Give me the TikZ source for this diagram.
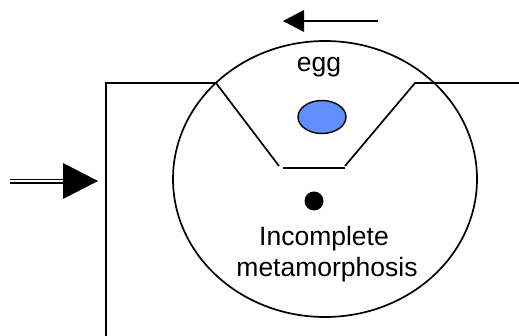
\documentclass[tikz,border=0pt]{standalone}
\usepackage{fontspec}
\setmainfont{Liberation Sans}
\definecolor{eggblue}{RGB}{96,142,250}
\begin{document}
\begin{tikzpicture}[x=1pt,y=-1pt,
  ln/.style={line width=1.7pt},
  lbl/.style={font=\fontsize{26.5}{31}\selectfont, inner sep=0pt, anchor=base}]
\useasboundingbox (0,0) rectangle (519,336);
% big circle
\draw[ln] (325,179) ellipse [x radius=152pt, y radius=138pt];
% left bracket
\coordinate (b0) at (106,336);
\coordinate (b1) at (106,83);
\coordinate (b2) at (216,83);
\coordinate (b3) at (279,166);
\coordinate (c0) at (283,168);
\coordinate (c1) at (345,168);
\coordinate (d0) at (345,166);
\coordinate (d1) at (415,83);
\coordinate (d2) at (519,83);
\draw[ln] (b0) -- (b1) -- (b2) -- (b3);
\draw[ln] (c0) -- (c1);
\draw[ln] (d0) -- (d1) -- (d2);
% egg
\draw[line width=1.4pt, fill=eggblue] (322,117) ellipse [x radius=24pt, y radius=16.5pt];
\node[lbl] (egg) at (319,72) {egg};
% dot
\fill (314,201) circle [radius=9.5pt];
\node[lbl] (l1) at (324,246) {Incomplete};
\node[lbl] (l2) at (327,277) {metamorphosis};
% top arrow
\coordinate (ta) at (378,21);
\coordinate (tb) at (304,21);
\draw[ln] (ta) -- (tb);
\fill (283,21) -- (304,10) -- (304,32) -- cycle;
% left double arrow
\coordinate (la) at (10,181.5);
\coordinate (lb) at (64,181.5);
\draw[line width=4.4pt] (la) -- (lb);
\draw[line width=2pt, white] (9,181.5) -- (64,181.5);
\fill (98,181) -- (63,163) -- (63,199) -- cycle;
\end{tikzpicture}
\end{document}
